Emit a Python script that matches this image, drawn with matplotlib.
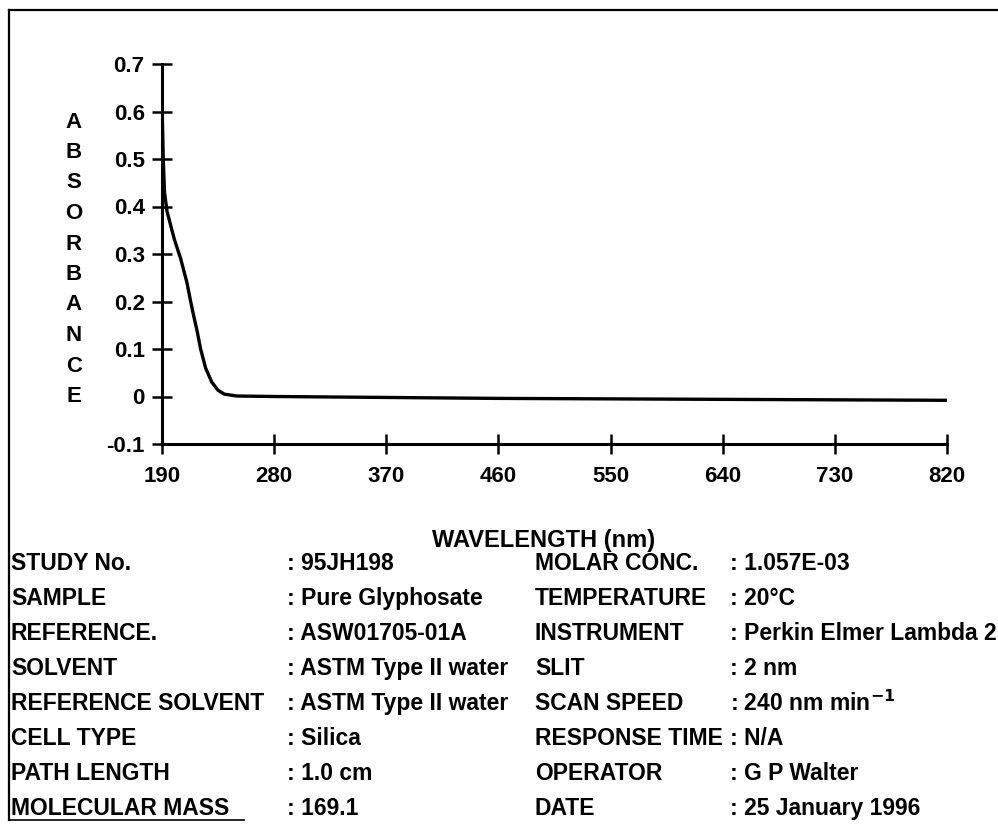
import matplotlib
matplotlib.use("Agg")
import matplotlib.pyplot as plt
from matplotlib.lines import Line2D

plt.rcParams['font.family'] = ['Liberation Sans', 'DejaVu Sans']
plt.rcParams['font.weight'] = 'bold'
plt.rcParams['mathtext.default'] = 'bf'

# spectrum
wavelength = [190, 191, 192, 194, 197, 200, 205, 210, 213, 215, 218, 221, 225, 230, 235,
              240, 250, 280, 370, 460, 550, 640, 730, 820]
absorbance = [0.62, 0.50, 0.43, 0.39, 0.36, 0.33, 0.29, 0.24, 0.20, 0.175, 0.14, 0.10, 0.06,
              0.03, 0.013, 0.005, 0.001, 0.0, -0.002, -0.004, -0.005, -0.006, -0.007, -0.008]

xticks = [190, 280, 370, 460, 550, 640, 730, 820]
yticks = [-0.1, 0, 0.1, 0.2, 0.3, 0.4, 0.5, 0.6, 0.7]
ylabels = ['-0.1', '0', '0.1', '0.2', '0.3', '0.4', '0.5', '0.6', '0.7']

left_keys = ['STUDY No.', 'SAMPLE', 'REFERENCE.', 'SOLVENT', 'REFERENCE SOLVENT',
             'CELL TYPE', 'PATH LENGTH', 'MOLECULAR MASS']
left_vals = [': 95JH198', ': Pure Glyphosate', ': ASW01705-01A', ': ASTM Type II water',
             ': ASTM Type II water', ': Silica', ': 1.0 cm', ': 169.1']
right_keys = ['MOLAR CONC.', 'TEMPERATURE', 'INSTRUMENT', 'SLIT', 'SCAN SPEED',
              'RESPONSE TIME', 'OPERATOR', 'DATE']
right_vals = [': 1.057E-03', ': 20\u00b0C', ': Perkin Elmer Lambda 2', ': 2 nm',
              r': 240 nm min$^{-1}$', ': N/A', ': G P Walter', ': 25 January 1996']

W, H = 998, 827
fig = plt.figure(figsize=(W / 100, H / 100), dpi=100)

def fx(px):
    return px / W

def fy(py):
    return 1 - py / H

ax = fig.add_axes([fx(162), fy(444), fx(947) - fx(162), fy(64) - fy(444)])
ax.plot(wavelength, absorbance, color='black', lw=2.4, solid_capstyle='round')
ax.set_xlim(190, 820)
ax.set_ylim(-0.1, 0.7)
ax.set_xticks(xticks)
ax.set_xticklabels([str(v) for v in xticks])
ax.set_yticks(yticks)
ax.set_yticklabels(ylabels)
for s in ['top', 'right']:
    ax.spines[s].set_visible(False)
for s in ['left', 'bottom']:
    ax.spines[s].set_linewidth(2.2)
ax.tick_params(direction='inout', length=15, width=1.8, labelsize=16)
ax.tick_params(axis='y', pad=5)
ax.tick_params(axis='x', pad=8)
for lab in ax.get_xticklabels() + ax.get_yticklabels():
    lab.set_fontweight('bold')

# vertical stacked y label
for i, ch in enumerate('ABSORBANCE'):
    fig.text(fx(74), fy(122 + i * 30.5), ch, ha='center', va='center',
             fontsize=16, fontweight='heavy')

fig.text(fx(544), fy(540), 'WAVELENGTH (nm)', ha='center', va='center',
         fontsize=17, fontweight='bold')

# info table
fs = 16.5
for i in range(len(left_keys)):
    y = fy(564 + i * 34.9)
    fig.text(fx(11), y, left_keys[i], ha='left', va='center', fontsize=fs)
    fig.text(fx(287), y, left_vals[i], ha='left', va='center', fontsize=fs)
    fig.text(fx(535), y, right_keys[i], ha='left', va='center', fontsize=fs)
    fig.text(fx(730), y, right_vals[i], ha='left', va='center', fontsize=fs)

# frame lines of the printed form
fig.add_artist(Line2D([fx(9), 1], [fy(10), fy(10)], color='black', lw=1.6))
fig.add_artist(Line2D([fx(9), fx(9)], [fy(10), fy(820)], color='black', lw=1.6))
fig.add_artist(Line2D([fx(9), fx(244)], [fy(820), fy(820)], color='black', lw=1.2))

fig.savefig('out.png', dpi=100)
